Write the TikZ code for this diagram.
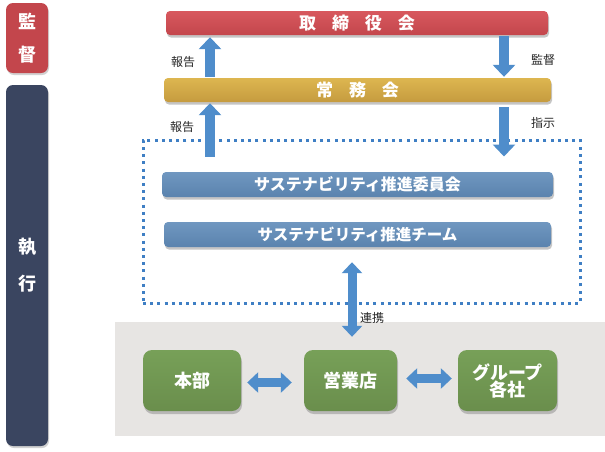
\documentclass[tikz,border=0pt]{standalone}
\usepackage{fontspec}
\setmainfont{Noto Sans CJK JP}
\usetikzlibrary{arrows.meta,shadows}
\definecolor{cred}{HTML}{C3464C}
\definecolor{credt}{HTML}{D8585E}
\definecolor{cgold}{HTML}{C59B3F}
\definecolor{cgoldt}{HTML}{DDB650}
\definecolor{csteel}{HTML}{5A83AE}
\definecolor{csteelt}{HTML}{7097C0}
\definecolor{cnavy}{HTML}{3A4560}
\definecolor{cgreen}{HTML}{6A8E4C}
\definecolor{cgreent}{HTML}{77A058}
\definecolor{cgray}{HTML}{E7E5E3}
\definecolor{carrow}{HTML}{4F8DCB}
\definecolor{cdot}{HTML}{3F7FC4}
\tikzset{
  bar/.style={rounded corners=4pt, minimum height=24pt, text=white, font=\bfseries\fontsize{17}{20}\selectfont,
    drop shadow={opacity=0.45, shadow xshift=1pt, shadow yshift=-2.5pt}},
  sidebox/.style={rounded corners=7pt, minimum width=42pt, text=white, align=center,
    font=\bfseries\fontsize{18}{21}\selectfont,
    drop shadow={opacity=0.35, shadow xshift=1pt, shadow yshift=-2pt}},
  greenbox/.style={rounded corners=9pt, minimum height=61pt, text=white, align=center,
    top color=cgreent, bottom color=cgreen,
    font=\bfseries\fontsize{18}{20}\selectfont,
    drop shadow={opacity=0.45, shadow xshift=1pt, shadow yshift=-3pt}},
  blockarrow/.style={draw=carrow, line width=10pt, -{Triangle[width=22pt,length=12pt]}},
  dblarrow/.style={draw=carrow, line width=9pt, {Triangle[width=20pt,length=11pt]}-{Triangle[width=20pt,length=11pt]}},
  lbl/.style={font=\fontsize{12}{14}\selectfont, text=black!85},
}
\begin{document}
\begin{tikzpicture}[x=1pt,y=-1pt]
\useasboundingbox (0,0) rectangle (605,451);
\fill[white] (0,0) rectangle (605,451);
% gray area
\fill[cgray] (115,322) rectangle (605,436);
% side boxes
\node[sidebox, fill=cred, minimum height=70pt] (kansa) at (27,38) {監\\[12pt]督};
\node[sidebox, fill=cnavy, minimum height=361pt] (shikko) at (27,265.5) {執\\[16pt]行};
% bars
\node[bar, top color=credt, bottom color=cred, minimum width=382pt] (tori) at (357,23) {取\hspace{16pt}締\hspace{16pt}役\hspace{16pt}会};
\node[bar, top color=cgoldt, bottom color=cgold, minimum width=387pt] (jomu) at (357.5,90) {常\hspace{16pt}務\hspace{16pt}会};
% dotted frame
\node[draw=cdot, line width=3pt, dash pattern=on 3pt off 4.2pt, minimum width=437pt, minimum height=163pt] (frame) at (361.5,221.5) {};
\node[bar, top color=csteelt, bottom color=csteel, minimum width=391pt, minimum height=25pt, font=\bfseries\fontsize{16}{18}\selectfont] (iinkai) at (357.5,184.5) {サステナビリティ推進委員会};
\node[bar, top color=csteelt, bottom color=csteel, minimum width=387pt, minimum height=25pt, font=\bfseries\fontsize{15.5}{18}\selectfont] (team) at (357.5,234.5) {サステナビリティ推進チーム};
% green boxes
\node[greenbox, minimum width=98pt] (honbu) at (192,380.5) {本部};
\node[greenbox, minimum width=93pt] (eigyo) at (350.5,380.5) {営業店};
\node[greenbox, minimum width=99pt] (group) at (507.5,380.5) {グループ\\[-3pt]各社};
% arrows
\coordinate (ua) at (210,0);
\coordinate (da) at (504,0);
\coordinate (va) at (352,0);
\draw[blockarrow] ([yshift=1pt]jomu.north -| ua) -- ([yshift=-2pt]tori.south -| ua);
\draw[blockarrow] ([yshift=-1pt]tori.south -| da) -- ([yshift=1pt]jomu.north -| da);
\draw[blockarrow] ([yshift=-18pt]frame.north -| ua) -- ([yshift=-1pt]jomu.south -| ua);
\draw[blockarrow] ([yshift=-5pt]jomu.south -| da) -- ([yshift=-18pt]frame.north -| da);
\draw[dblarrow] ([yshift=-15pt]team.south -| va) -- ([yshift=13pt]eigyo.north -| va);
\draw[dblarrow] ([xshift=6pt,yshift=-2pt]honbu.east) -- ([xshift=-12pt,yshift=-2pt]eigyo.west);
\draw[dblarrow] ([xshift=9pt,yshift=2pt]eigyo.east) -- ([xshift=-6pt,yshift=2pt]group.west);
% labels
\node[lbl] (l1) at (183,62) {報告};
\node[lbl] (l2) at (543,60) {監督};
\node[lbl] (l3) at (182,127) {報告};
\node[lbl] (l4) at (543,123) {指示};
\node[lbl] (l5) at (372,318) {連携};
\end{tikzpicture}
\end{document}
